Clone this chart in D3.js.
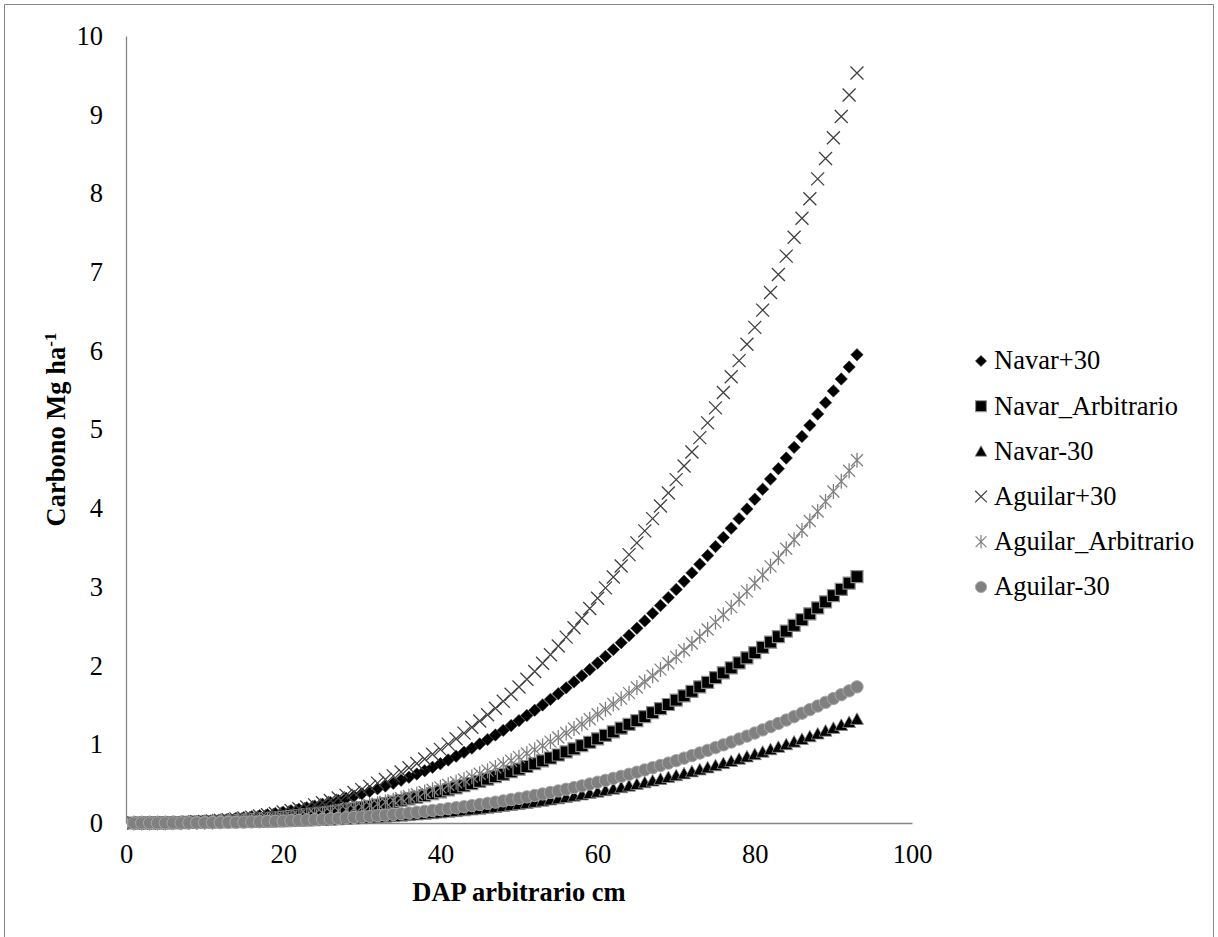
<!DOCTYPE html>
<html>
<head>
<meta charset="utf-8">
<script src="https://cdn.jsdelivr.net/npm/d3@7/dist/d3.min.js"></script>
<style>
  body { margin: 0; background: #fff; }
</style>
</head>
<body>
<div id="chart-area"></div>
<script>
/*
*    carbono vs DAP scatter
*/

var dap = [1,2,3,4,5,6,7,8,9,10,11,12,13,14,15,16,17,18,19,20,
    21,22,23,24,25,26,27,28,29,30,31,32,33,34,35,36,37,38,39,40,
    41,42,43,44,45,46,47,48,49,50,51,52,53,54,55,56,57,58,59,60,
    61,62,63,64,65,66,67,68,69,70,71,72,73,74,75,76,77,78,79,80,
    81,82,83,84,85,86,87,88,89,90,91,92,93];

var navarMas30 = [0.000,0.000,0.001,0.003,0.005,0.007,0.011,0.015,0.019,0.025,
    0.032,0.039,0.048,0.058,0.068,0.080,0.093,0.106,0.122,0.138,
    0.155,0.174,0.194,0.215,0.238,0.262,0.287,0.314,0.342,0.372,
    0.403,0.436,0.470,0.506,0.543,0.582,0.622,0.664,0.708,0.753,
    0.800,0.849,0.899,0.951,1.005,1.060,1.118,1.177,1.238,1.301,
    1.365,1.432,1.500,1.571,1.643,1.717,1.793,1.871,1.951,2.033,
    2.117,2.203,2.291,2.382,2.474,2.568,2.664,2.763,2.864,2.967,
    3.071,3.178,3.288,3.399,3.513,3.628,3.746,3.867,3.989,4.114,
    4.241,4.371,4.502,4.637,4.773,4.912,5.053,5.196,5.341,5.490,
    5.642,5.794,5.950];

var navarArbitrario = [0.000,0.000,0.001,0.001,0.002,0.004,0.006,0.008,0.010,0.013,
    0.017,0.021,0.025,0.030,0.036,0.042,0.049,0.056,0.064,0.072,
    0.082,0.092,0.102,0.113,0.125,0.138,0.151,0.165,0.180,0.196,
    0.212,0.229,0.247,0.266,0.286,0.306,0.327,0.349,0.372,0.396,
    0.421,0.446,0.473,0.500,0.529,0.558,0.588,0.619,0.651,0.684,
    0.718,0.753,0.789,0.826,0.864,0.903,0.943,0.984,1.026,1.070,
    1.114,1.159,1.205,1.253,1.301,1.351,1.402,1.453,1.506,1.561,
    1.616,1.672,1.730,1.788,1.848,1.908,1.971,2.034,2.099,2.164,
    2.231,2.299,2.368,2.439,2.511,2.584,2.658,2.733,2.810,2.888,
    2.968,3.048,3.130];

var navarMenos30 = [0.000,0.000,0.000,0.000,0.000,0.001,0.001,0.002,0.002,0.003,
    0.004,0.005,0.006,0.007,0.009,0.010,0.012,0.014,0.017,0.019,
    0.022,0.025,0.028,0.032,0.036,0.040,0.044,0.049,0.054,0.059,
    0.064,0.070,0.076,0.083,0.090,0.097,0.105,0.113,0.121,0.130,
    0.139,0.148,0.158,0.169,0.179,0.190,0.202,0.214,0.227,0.240,
    0.253,0.267,0.281,0.296,0.311,0.327,0.344,0.360,0.378,0.395,
    0.414,0.433,0.452,0.472,0.493,0.514,0.536,0.558,0.581,0.604,
    0.628,0.653,0.678,0.704,0.731,0.758,0.785,0.814,0.843,0.872,
    0.903,0.934,0.965,0.998,1.031,1.064,1.099,1.134,1.170,1.206,
    1.244,1.281,1.320];

var aguilarMas30 = [0.000,0.000,0.001,0.002,0.003,0.005,0.008,0.011,0.015,0.021,
    0.027,0.034,0.043,0.052,0.063,0.075,0.089,0.104,0.121,0.139,
    0.159,0.181,0.204,0.230,0.257,0.286,0.318,0.351,0.387,0.424,
    0.465,0.507,0.552,0.599,0.648,0.701,0.756,0.813,0.873,0.936,
    1.002,1.071,1.142,1.217,1.295,1.375,1.459,1.546,1.636,1.729,
    1.826,1.926,2.030,2.137,2.248,2.362,2.480,2.601,2.726,2.855,
    2.988,3.125,3.265,3.410,3.559,3.712,3.868,4.029,4.194,4.363,
    4.537,4.715,4.897,5.084,5.275,5.470,5.670,5.875,6.084,6.298,
    6.517,6.741,6.969,7.203,7.443,7.684,7.933,8.185,8.444,8.708,
    8.978,9.251,9.530];

var aguilarArbitrario = [0.000,0.000,0.000,0.001,0.001,0.002,0.004,0.005,0.007,0.010,
    0.013,0.017,0.021,0.025,0.031,0.036,0.043,0.050,0.058,0.067,
    0.077,0.087,0.099,0.111,0.124,0.139,0.154,0.170,0.187,0.205,
    0.225,0.245,0.267,0.290,0.314,0.339,0.366,0.393,0.422,0.453,
    0.485,0.518,0.553,0.589,0.626,0.665,0.706,0.748,0.791,0.837,
    0.883,0.932,0.982,1.034,1.087,1.143,1.200,1.258,1.319,1.381,
    1.446,1.512,1.580,1.650,1.721,1.795,1.871,1.949,2.029,2.111,
    2.195,2.281,2.369,2.459,2.552,2.646,2.743,2.842,2.943,3.047,
    3.152,3.261,3.371,3.484,3.600,3.717,3.838,3.959,4.085,4.212,
    4.343,4.475,4.610];

var aguilarMenos30 = [0.000,0.000,0.000,0.000,0.001,0.001,0.001,0.002,0.003,0.004,
    0.005,0.006,0.008,0.009,0.011,0.014,0.016,0.019,0.022,0.025,
    0.029,0.033,0.037,0.042,0.047,0.052,0.058,0.064,0.070,0.077,
    0.084,0.092,0.100,0.109,0.118,0.127,0.137,0.148,0.159,0.170,
    0.182,0.194,0.207,0.221,0.235,0.250,0.265,0.281,0.297,0.314,
    0.332,0.350,0.369,0.388,0.408,0.429,0.450,0.472,0.495,0.518,
    0.542,0.567,0.593,0.619,0.646,0.674,0.702,0.731,0.761,0.792,
    0.824,0.856,0.889,0.923,0.958,0.993,1.029,1.067,1.104,1.143,
    1.183,1.224,1.265,1.308,1.351,1.395,1.440,1.486,1.533,1.581,
    1.630,1.679,1.730];

var seriesNames = ["Navar+30", "Navar_Arbitrario", "Navar-30",
    "Aguilar+30", "Aguilar_Arbitrario", "Aguilar-30"];
var seriesValues = [navarMas30, navarArbitrario, navarMenos30,
    aguilarMas30, aguilarArbitrario, aguilarMenos30];

var xTicks = [0, 20, 40, 60, 80, 100];
var yTicks = [0, 1, 2, 3, 4, 5, 6, 7, 8, 9, 10];

var serif = "'Liberation Serif', 'Times New Roman', serif";
var fontSize = "26.5px";

// marker look for each series
var markers = [
    { shape: "diamond",  fill: "#000", stroke: "#333", sw: 0.6 },
    { shape: "square",   fill: "#000", stroke: "#8c8c8c", sw: 1.2 },
    { shape: "triangle", fill: "#000", stroke: "#8c8c8c", sw: 0.8 },
    { shape: "x",        fill: "none", stroke: "#404040", sw: 1.3 },
    { shape: "star",     fill: "none", stroke: "#808080", sw: 1.3 },
    { shape: "circle",   fill: "#808080", stroke: "#a6a6a6", sw: 1 }
];

function markerPath(shape) {
    switch (shape) {
        case "diamond": return "M0,-6.2L6.2,0L0,6.2L-6.2,0Z";
        case "square": return "M-6,-6H6V6H-6Z";
        case "triangle": return "M0,-6.3L6.5,5.3H-6.5Z";
        case "x": return "M-6.5,-6.5L6.5,6.5M6.5,-6.5L-6.5,6.5";
        case "star": return "M-6,-6L6,6M6,-6L-6,6M0,-7.5V7.5";
        case "circle": return "M6.2,0A6.2,6.2 0 1,1 -6.2,0A6.2,6.2 0 1,1 6.2,0Z";
    }
}

var svg = d3.select("#chart-area").append("svg")
    .attr("width", 1218)
    .attr("height", 937);

// frame: the bottom edge is cut off in the picture
svg.append("path")
    .attr("d", "M4.5,937V4.5H1213.5V937")
    .attr("fill", "none")
    .attr("stroke", "#868686")
    .attr("stroke-width", 1);

var x = d3.scaleLinear().domain([0, 100]).range([126, 912]);
var y = d3.scaleLinear().domain([0, 10]).range([823, 36]);

var yAxis = svg.append("g")
    .attr("transform", "translate(126,0)")
    .call(d3.axisLeft(y).tickValues(yTicks).tickSize(0).tickSizeOuter(0).tickPadding(23));

var xAxis = svg.append("g")
    .attr("transform", "translate(0,823)")
    .call(d3.axisBottom(x).tickValues(xTicks).tickSize(0).tickSizeOuter(0).tickPadding(21));

[xAxis, yAxis].forEach(function(g) {
    g.attr("font-family", null).attr("font-size", null);
    g.select(".domain").attr("stroke", "#868686").attr("stroke-width", 1.3);
    g.selectAll("text")
        .style("font-family", serif)
        .style("font-size", fontSize)
        .attr("fill", "#000");
});

// points, drawn in series order so later series sit on top
seriesValues.forEach(function(vals, si) {
    var m = markers[si];
    svg.append("g").selectAll("path").data(vals).enter().append("path")
        .attr("d", markerPath(m.shape))
        .attr("transform", function(d, i) {
            return "translate(" + x(dap[i]) + "," + y(d) + ")";
        })
        .attr("fill", m.fill)
        .attr("stroke", m.stroke)
        .attr("stroke-width", m.sw);
});

// axis titles
svg.append("text")
    .attr("x", x(50))
    .attr("y", 892)
    .attr("dy", "0.35em")
    .attr("text-anchor", "middle")
    .style("font-family", serif)
    .style("font-size", fontSize)
    .style("font-weight", "bold")
    .text("DAP arbitrario cm");

var yTitle = svg.append("text")
    .attr("transform", "translate(56," + y(5) + ") rotate(-90)")
    .attr("dy", "0.35em")
    .attr("text-anchor", "middle")
    .style("font-family", serif)
    .style("font-size", fontSize)
    .style("font-weight", "bold");
yTitle.append("tspan").text("Carbono Mg ha");
yTitle.append("tspan")
    .attr("baseline-shift", "super")
    .style("font-size", "17px")
    .text("-1");

// legend
var legend = svg.append("g");
seriesNames.forEach(function(name, i) {
    var m = markers[i];
    var ly = 361 + i * 45.2;
    legend.append("path")
        .attr("d", markerPath(m.shape))
        .attr("transform", "translate(981," + ly + ") scale(0.9)")
        .attr("fill", m.fill)
        .attr("stroke", m.stroke)
        .attr("stroke-width", m.sw);
    legend.append("text")
        .attr("x", 994)
        .attr("y", ly)
        .attr("dy", "0.32em")
        .style("font-family", serif)
        .style("font-size", fontSize)
        .text(name);
});
</script>
</body>
</html>
